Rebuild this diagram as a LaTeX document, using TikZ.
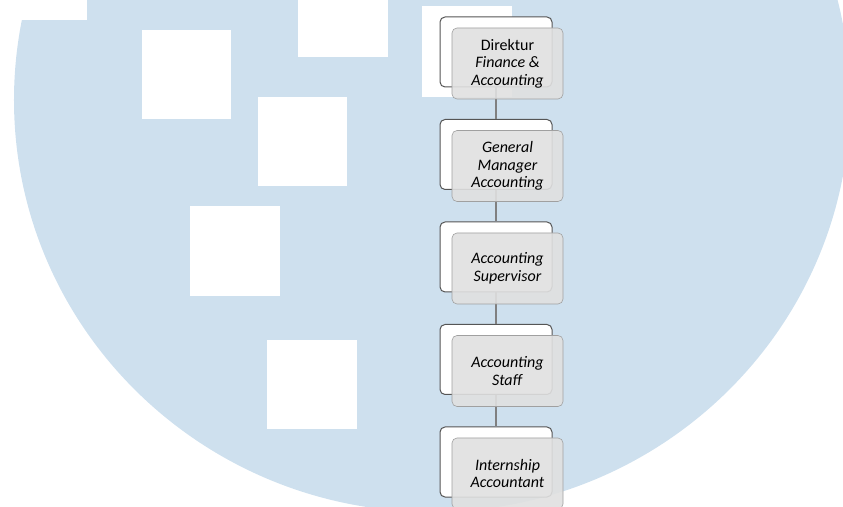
\documentclass[tikz,border=0pt]{standalone}
\usepackage{fontspec}
\setmainfont{Carlito}
\usetikzlibrary{positioning}
\definecolor{shieldblue}{RGB}{206,224,238}
\definecolor{cardline}{RGB}{85,85,85}
\definecolor{tagfill}{RGB}{224,224,224}
\definecolor{tagline}{RGB}{160,160,160}

\begin{document}
\begin{tikzpicture}[x=1bp, y=1bp, semithick, node distance=102.5bp]
\tikzstyle{card}=[draw=cardline, fill=white, rounded corners=5bp, minimum width=112bp, minimum height=70bp, line width=1bp]
\tikzstyle{tag}=[draw=tagline, fill=tagfill, fill opacity=0.9, text opacity=1, rounded corners=5bp, minimum width=111bp, minimum height=71bp, align=center, font=\fontsize{16bp}{17.5bp}\selectfont, xshift=11.5bp, yshift=-11.5bp]
\tikzstyle{link}=[draw=gray, line width=1.3bp]

\useasboundingbox (0,0) rectangle (843,507);
\clip (0,0) rectangle (843,507);

% background
\fill[shieldblue] (432,407) ellipse [x radius=418bp, y radius=412bp];
\fill[white] (0,487) rectangle (87,510);
\fill[white] (142,477) rectangle (231,388);
\fill[white] (298,450) rectangle (388,510);
\fill[white] (258,410) rectangle (347,321);
\fill[white] (422,501) rectangle (512,410);
\fill[white] (190,301) rectangle (280,211);
\fill[white] (267,167) rectangle (357,78);

% cards behind
\node[card]    (B1) at (496,455) {};
\node[card]    (B2)[below of=B1] {};
\node[card]    (B3)[below of=B2] {};
\node[card]    (B4)[below of=B3] {};
\node[card]    (B5)[below of=B4] {};

\path[link]
(B1) edge (B2)
(B2) edge (B3)
(B3) edge (B4)
(B4) edge (B5);

% positions
\node[tag]    (J1) at (B1) {Direktur\\\textit{Finance \&}\\\textit{Accounting}};
\node[tag]    (J2) at (B2) {\textit{General}\\\textit{Manager}\\\textit{Accounting}};
\node[tag]    (J3) at (B3) {\textit{Accounting}\\\textit{Supervisor}};
\node[tag]    (J4) at (B4) {\textit{Accounting}\\\textit{Staff}};
\node[tag]    (J5) at (B5) {\textit{Internship}\\\textit{Accountant}};
\end{tikzpicture}
\end{document}
